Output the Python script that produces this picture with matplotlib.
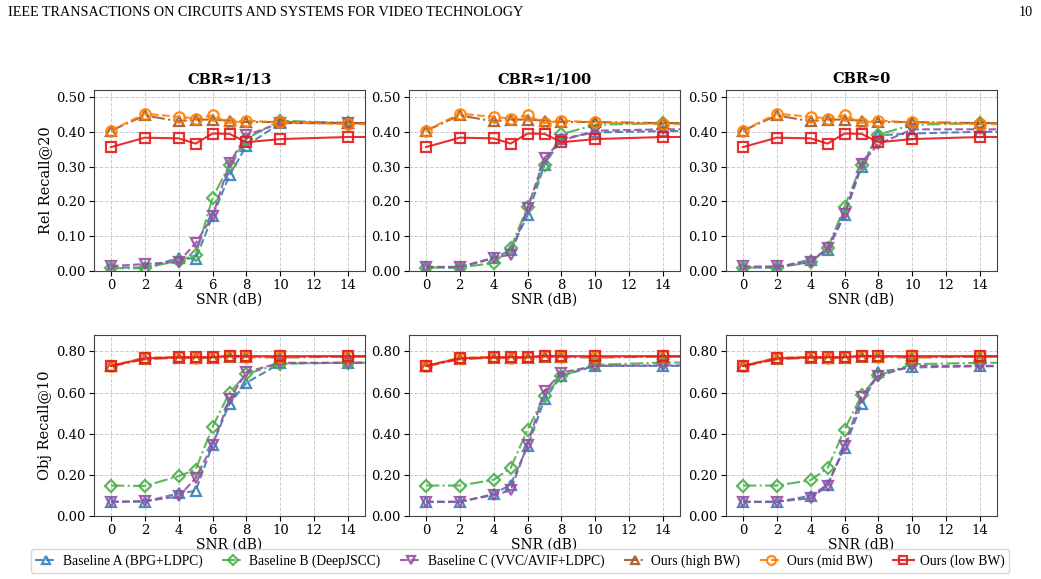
import matplotlib
matplotlib.use('Agg')
import matplotlib.pyplot as plt
from matplotlib.ticker import FormatStrFormatter

# -----------------------------
# Data
# -----------------------------
snr = [0, 2, 4, 5, 6, 7, 8, 10, 14, 16]
cbr_titles = ["CBR≈1/13", "CBR≈1/100", "CBR≈0"]

method_names = ["Baseline A (BPG+LDPC)", "Baseline B (DeepJSCC)", "Baseline C (VVC/AVIF+LDPC)",
                "Ours (high BW)", "Ours (mid BW)", "Ours (low BW)"]

# Rel Recall@20, one list per CBR column
rel_base_a = [
    [0.010, 0.010, 0.037, 0.035, 0.157, 0.275, 0.360, 0.425, 0.425, 0.425],
    [0.010, 0.010, 0.037, 0.060, 0.160, 0.305, 0.380, 0.398, 0.402, 0.402],
    [0.010, 0.010, 0.033, 0.060, 0.160, 0.300, 0.390, 0.395, 0.400, 0.400],
]
rel_base_b = [
    [0.008, 0.008, 0.030, 0.045, 0.210, 0.305, 0.380, 0.432, 0.425, 0.425],
    [0.010, 0.010, 0.023, 0.065, 0.185, 0.305, 0.393, 0.420, 0.425, 0.425],
    [0.010, 0.010, 0.025, 0.065, 0.185, 0.305, 0.392, 0.420, 0.425, 0.425],
]
rel_base_c = [
    [0.014, 0.020, 0.026, 0.080, 0.157, 0.310, 0.390, 0.425, 0.425, 0.425],
    [0.012, 0.012, 0.038, 0.047, 0.180, 0.325, 0.375, 0.403, 0.407, 0.407],
    [0.013, 0.013, 0.025, 0.067, 0.165, 0.308, 0.365, 0.407, 0.407, 0.407],
]
rel_ours_high = [0.403, 0.447, 0.430, 0.435, 0.435, 0.432, 0.428, 0.428, 0.425, 0.425]
rel_ours_mid = [0.403, 0.452, 0.443, 0.438, 0.447, 0.425, 0.432, 0.427, 0.422, 0.422]
rel_ours_low = [0.356, 0.383, 0.381, 0.366, 0.395, 0.394, 0.370, 0.379, 0.385, 0.385]

# Obj Recall@10, one list per CBR column
obj_base_a = [
    [0.070, 0.070, 0.110, 0.122, 0.347, 0.546, 0.648, 0.742, 0.745, 0.745],
    [0.068, 0.068, 0.107, 0.152, 0.339, 0.567, 0.681, 0.730, 0.730, 0.730],
    [0.068, 0.068, 0.099, 0.152, 0.331, 0.543, 0.702, 0.722, 0.728, 0.728],
]
obj_base_b = [
    [0.148, 0.146, 0.194, 0.225, 0.433, 0.600, 0.690, 0.741, 0.745, 0.745],
    [0.148, 0.148, 0.176, 0.233, 0.420, 0.583, 0.681, 0.735, 0.746, 0.746],
    [0.148, 0.148, 0.174, 0.233, 0.420, 0.587, 0.684, 0.738, 0.745, 0.745],
]
obj_base_c = [
    [0.068, 0.072, 0.095, 0.184, 0.345, 0.567, 0.700, 0.745, 0.745, 0.745],
    [0.070, 0.070, 0.102, 0.124, 0.347, 0.608, 0.697, 0.730, 0.732, 0.732],
    [0.070, 0.070, 0.086, 0.148, 0.342, 0.580, 0.681, 0.730, 0.730, 0.730],
]
obj_ours_high = [0.728, 0.762, 0.770, 0.768, 0.770, 0.775, 0.773, 0.770, 0.775, 0.775]
obj_ours_mid = [0.730, 0.770, 0.772, 0.770, 0.772, 0.776, 0.775, 0.773, 0.776, 0.776]
obj_ours_low = [0.730, 0.766, 0.772, 0.772, 0.772, 0.779, 0.777, 0.777, 0.777, 0.777]

# -----------------------------
# Styles
# -----------------------------
styles = [
    dict(color="#377eb8", ls="--", marker="^"),
    dict(color="#4daf4a", ls="-.", marker="D"),
    dict(color="#984ea3", ls="--", marker="v"),
    dict(color="#a65628", ls="-.", marker="^"),
    dict(color="#ff7f00", ls="--", marker="o"),
    dict(color="#e41a1c", ls="-", marker="s"),
]

plt.rcParams['font.family'] = 'DejaVu Serif'
plt.rcParams['font.size'] = 9.5
plt.rcParams['xtick.major.pad'] = 2.5
plt.rcParams['ytick.major.pad'] = 2.5

fig = plt.figure(figsize=(10.41, 5.79), dpi=100)

lefts = [94, 409, 726]
width = 271
rows = [(90, 271), (335, 516)]
W, H = 1041, 579

fig.text(8 / W, 1 - 12 / H, "IEEE TRANSACTIONS ON CIRCUITS AND SYSTEMS FOR VIDEO TECHNOLOGY",
         family='Liberation Serif', fontsize=10.2, va='center', ha='left')
fig.text(1033 / W, 1 - 12 / H, "10", family='Liberation Serif', fontsize=10.2, va='center', ha='right')


def draw(ax, series):
    handles = []
    for vals, st in zip(series, styles):
        ms = 6 if st["marker"] == "D" else 7.5
        h, = ax.plot(snr, vals, color=st["color"], ls=st["ls"], marker=st["marker"],
                     lw=1.5, ms=ms, mfc="none", mew=1.6, alpha=0.9)
        handles.append(h)
    ax.set_xlim(-1, 15)
    ax.set_xticks(range(0, 15, 2))
    ax.grid(True, ls="--", color="#cccccc", lw=0.7)
    ax.set_xlabel("SNR (dB)", labelpad=0, fontsize=10)
    for sp in ax.spines.values():
        sp.set_color("#444444")
    return handles


handles = None
for r, (top, bottom) in enumerate(rows):
    for c in range(3):
        ax = fig.add_axes([lefts[c] / W, 1 - bottom / H, width / W, (bottom - top) / H])
        if r == 0:
            series = [rel_base_a[c], rel_base_b[c], rel_base_c[c], rel_ours_high, rel_ours_mid, rel_ours_low]
            handles = draw(ax, series)
            ax.set_ylim(0, 0.52)
            ax.set_yticks([0, 0.1, 0.2, 0.3, 0.4, 0.5])
            ax.set_title(cbr_titles[c], fontweight="bold", fontsize=10.5, pad=5)
            if c == 0:
                ax.set_ylabel("Rel Recall@20", fontsize=10.5, labelpad=3)
        else:
            series = [obj_base_a[c], obj_base_b[c], obj_base_c[c], obj_ours_high, obj_ours_mid, obj_ours_low]
            draw(ax, series)
            ax.set_ylim(0, 0.88)
            ax.set_yticks([0, 0.2, 0.4, 0.6, 0.8])
            if c == 0:
                ax.set_ylabel("Obj Recall@10", fontsize=10.5, labelpad=3)
        ax.yaxis.set_major_formatter(FormatStrFormatter("%.2f"))

fig.legend(handles, method_names, loc="center", bbox_to_anchor=(520 / W, 1 - 561 / H),
           ncol=6, frameon=True, prop={'family': 'Liberation Serif', 'size': 9.8},
           handlelength=1.6, columnspacing=1.45, handletextpad=0.4, borderpad=0.35,
           markerscale=0.85, edgecolor="#cccccc", fancybox=True)

plt.savefig("out.png", dpi=100)
plt.close()
